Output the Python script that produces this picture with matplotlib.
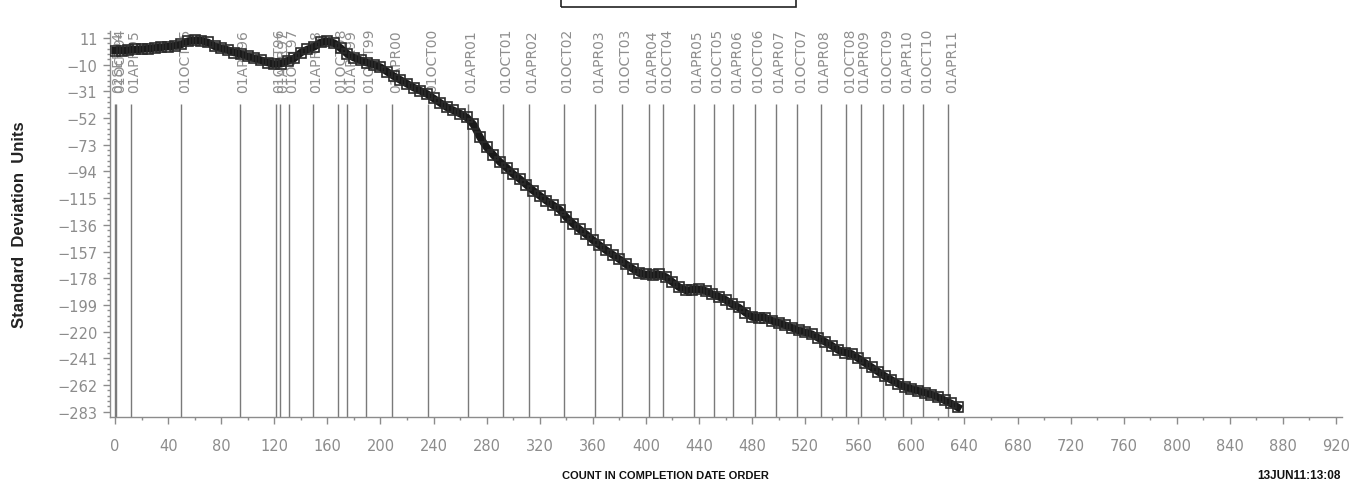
import matplotlib
matplotlib.use("Agg")
import matplotlib.pyplot as plt
from matplotlib.patches import Rectangle
from matplotlib.ticker import MultipleLocator, FixedLocator
import matplotlib.transforms as mtransforms

# Cumulative standardized deviation, read every 5 completions
count = list(range(0, 640, 5))
deviation = [
    1, 1, 1.5, 2, 2.3, 2.5, 3.2, 3.8, 4.2, 4.8,
    6, 8.5, 9.2, 8.8, 7.5, 4.5, 3, 1.5, -0.5, -1.5,
    -3.5, -5, -6.5, -8.3, -9.5, -9.3, -7, -5, -0.5, 2,
    4, 7.5, 8.5, 7, 3, -1.5, -4.5, -6.5, -8.5, -10,
    -12, -15.5, -19, -22, -25, -28, -30.5, -33, -36.5, -40,
    -43.5, -46, -48.5, -51.5, -57, -67, -75, -81, -86.5, -91,
    -96, -100, -104.5, -109, -113, -117, -120.5, -124, -130, -135,
    -139.5, -143.5, -148, -152, -156, -159.5, -163, -167, -170.5, -174,
    -175, -175.5, -175, -177, -181, -185, -187.5, -187, -186.5, -188,
    -190.5, -192.5, -195, -198.5, -201, -205, -208.5, -209, -209, -211.5,
    -213, -215, -217, -219, -220.5, -222, -225, -228, -231, -234.5,
    -236.5, -237.5, -241, -244.5, -248, -251.5, -255, -258, -261, -263.5,
    -265, -266.5, -268, -269.5, -271.5, -274, -276.5, -279.5,
]

# Date markers: position in completion order and label
event_count = [0, 1, 12, 50, 94, 121, 124, 131, 149, 168, 175, 189, 209, 236,
               266, 292, 312, 338, 362, 382, 402, 413, 436, 451, 466, 482,
               498, 514, 532, 551, 562, 579, 594, 609, 628]
event_label = ["02SEP94", "01OCT94", "01APR95", "01OCT95", "01APR96",
               "01OCT96", "01APR97", "01OCT97", "01APR98", "01OCT98",
               "01APR99", "01OCT99", "01APR00", "01OCT00", "01APR01",
               "01OCT01", "01APR02", "01OCT02", "01APR03", "01OCT03",
               "01APR04", "01OCT04", "01APR05", "01OCT05", "01APR06",
               "01OCT06", "01APR07", "01OCT07", "01APR08", "01OCT08",
               "01APR09", "01OCT09", "01APR10", "01OCT10", "01APR11"]

y_ticks = [11, -10, -31, -52, -73, -94, -115, -136, -157, -178, -199,
           -220, -241, -262, -283]

GRAY = "#8c8c8c"

fig = plt.figure(figsize=(13.64, 4.85), dpi=100)
ax = fig.add_axes([110 / 1364, 1 - 417.7 / 485, (1342 - 110) / 1364, (417.7 - 32) / 485])

ax.set_xlim(-3.8, 924.5)
ax.set_ylim(-286.9, 16.5)

# vertical date markers
ax.vlines(event_count, -286.9, -41, colors="#7a7a7a", linewidth=1.0, zorder=1)
lbl_tr = mtransforms.offset_copy(ax.transData, fig=fig, x=3.5, y=0, units="dots")
for c, lab in zip(event_count, event_label):
    ax.text(c, -31.5, lab, rotation=90, ha="center", va="bottom",
            fontsize=10, color="#8e8e8e", family="DejaVu Sans",
            transform=lbl_tr, clip_on=False, zorder=2)

# the series
ax.plot(count, deviation, color="#1a1a1a", linewidth=5.5, zorder=3,
        solid_joinstyle="round")
ax.plot(count, deviation, linestyle="none", marker="s", markersize=7,
        markerfacecolor="none", markeredgecolor="#2a2a2a",
        markeredgewidth=1.2, zorder=4)

# axes styling
for side in ("top", "right"):
    ax.spines[side].set_visible(False)
for side in ("left", "bottom"):
    ax.spines[side].set_color(GRAY)
    ax.spines[side].set_linewidth(1.0)

ax.xaxis.set_major_locator(MultipleLocator(40))
ax.xaxis.set_minor_locator(MultipleLocator(20))
ax.yaxis.set_major_locator(FixedLocator(y_ticks))
ax.yaxis.set_minor_locator(MultipleLocator(4.2, offset=11))
ax.tick_params(axis="both", which="major", direction="out", length=5,
               width=1, color=GRAY, labelcolor=GRAY, labelsize=10.5)
ax.tick_params(axis="both", which="minor", direction="out", length=2.5,
               width=1, color=GRAY)
ax.tick_params(axis="x", which="major", pad=10)
ax.tick_params(axis="y", which="major", pad=4)
ax.set_yticklabels([f"{v}".replace("-", "\u2212") for v in y_ticks])

fig.text(20 / 1364, 1 - 225 / 485, "Standard  Deviation  Units", rotation=90,
         ha="center", va="center", fontsize=12, fontweight="bold",
         family="Liberation Sans", color="#222222")
fig.text(665 / 1364, 1 - 476 / 485, "COUNT IN COMPLETION DATE ORDER",
         ha="center", va="center", fontsize=8, fontweight="bold",
         family="Liberation Sans", color="#111111")
fig.text(1341 / 1364, 1 - 476 / 485, "13JUN11:13:08",
         ha="right", va="center", fontsize=8.5, fontweight="bold",
         family="Liberation Sans", color="#111111")

# title frame at the top edge
fig.patches.append(Rectangle((561 / 1364, 1 - 7.5 / 485), (796 - 561) / 1364, 0.1,
                             transform=fig.transFigure, fill=False,
                             edgecolor="#222222", linewidth=1.2))

fig.savefig("out.png", dpi=100)
